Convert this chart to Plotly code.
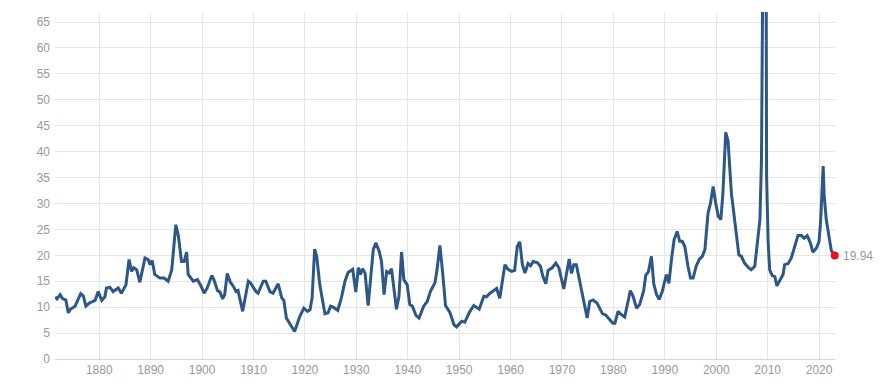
import plotly.graph_objects as go

years = [
    1871.45, 1871.8, 1872.4, 1872.9, 1873.5, 1874.0, 1874.4, 1875.3, 1876.4, 1876.9,
    1877.4, 1878.1, 1879.2, 1879.8, 1880.5, 1881.1, 1881.4, 1882.1, 1882.7, 1883.7,
    1884.3, 1885.2, 1885.8, 1886.3, 1886.7, 1887.3, 1887.9, 1888.9, 1889.5, 1889.9,
    1890.3, 1890.8, 1891.8, 1892.6, 1893.4, 1894.1, 1894.9, 1895.4, 1896.0, 1896.5,
    1897.0, 1897.3, 1898.3, 1899.1, 1899.7, 1900.4, 1901.0, 1901.9, 1902.3, 1903.0,
    1903.5, 1904.0, 1904.4, 1904.9, 1905.5, 1906.1, 1906.6, 1907.0, 1907.9, 1909.0,
    1909.4, 1910.5, 1910.9, 1911.9, 1912.4, 1913.2, 1913.8, 1914.8, 1915.5, 1915.9,
    1916.4, 1917.1, 1918.0, 1919.0, 1919.8, 1920.5, 1921.0, 1921.4, 1921.9, 1922.3,
    1922.9, 1923.9, 1924.5, 1925.0, 1925.5, 1926.4, 1927.1, 1927.8, 1928.4, 1929.3,
    1929.9, 1930.4, 1930.8, 1931.2, 1931.7, 1932.3, 1933.3, 1933.8, 1934.45, 1934.9,
    1935.4, 1935.9, 1936.4, 1936.85, 1937.3, 1937.8, 1938.3, 1938.8, 1939.25, 1939.9,
    1940.4, 1940.9, 1941.6, 1942.2, 1943.1, 1943.8, 1944.4, 1945.3, 1945.7, 1946.25,
    1946.8, 1947.35, 1948.2, 1949.0, 1949.5, 1950.5, 1951.1, 1952.1, 1952.85, 1953.9,
    1954.8, 1955.3, 1956.0, 1957.3, 1957.9, 1958.9, 1959.5, 1960.2, 1960.8, 1961.3,
    1961.8, 1962.3, 1962.8, 1963.4, 1963.9, 1964.4, 1965.2, 1965.8, 1966.3, 1966.85,
    1967.3, 1968.1, 1968.8, 1969.4, 1970.35, 1971.4, 1971.85, 1972.3, 1972.8, 1973.8,
    1974.9, 1975.4, 1976.05, 1976.8, 1977.9, 1978.5, 1979.3, 1979.9, 1980.3, 1980.9,
    1981.6, 1982.2, 1983.3, 1983.8, 1984.5, 1985.1, 1985.9, 1986.3, 1986.8, 1987.4,
    1987.85, 1988.4, 1988.9, 1989.5, 1990.3, 1990.8, 1991.3, 1991.8, 1992.4, 1992.9,
    1993.4, 1993.9, 1994.5, 1995.0, 1995.5, 1996.1, 1996.7, 1997.3, 1997.8, 1998.4,
    1998.9, 1999.4, 1999.9, 2000.4, 2000.9, 2001.3, 2001.85, 2002.3, 2002.95, 2003.6,
    2004.05, 2004.4, 2004.9, 2005.5, 2006.2, 2006.8, 2007.5, 2007.9, 2008.5, 2008.8,
    2008.9, 2009.1, 2009.3, 2009.4, 2009.55, 2009.7, 2009.8, 2010.1, 2010.4, 2010.9,
    2011.4, 2011.8, 2012.4, 2013.0, 2013.3, 2014.0, 2014.6, 2015.3, 2015.9, 2016.6,
    2017.1, 2017.7, 2018.3, 2018.8, 2019.5, 2020.0, 2020.3, 2020.8, 2021.0, 2021.4,
    2021.9, 2022.4, 2022.8, 2023.05,
]

pe_ratio = [
    12.0, 11.6, 12.4, 11.6, 11.4, 8.9, 9.6, 10.2, 12.6, 12.2,
    10.2, 10.8, 11.3, 13.0, 11.3, 12.0, 13.7, 13.8, 13.0, 13.7,
    12.7, 14.3, 19.2, 16.9, 17.6, 17.2, 14.8, 19.5, 19.2, 18.2,
    19.0, 16.3, 15.6, 15.6, 15.0, 17.2, 25.9, 23.7, 18.8, 18.8,
    20.6, 16.3, 15.0, 15.3, 14.3, 12.7, 13.7, 16.1, 15.3, 13.2,
    12.9, 11.6, 12.4, 16.5, 14.8, 14.0, 13.0, 13.2, 9.2, 15.0,
    14.7, 13.0, 12.7, 15.0, 15.0, 13.0, 12.7, 14.5, 11.8, 11.3,
    7.9, 6.8, 5.3, 8.2, 9.8, 9.2, 9.5, 11.8, 21.2, 19.8,
    14.3, 8.7, 8.9, 10.2, 10.0, 9.4, 11.8, 15.0, 16.7, 17.3,
    12.9, 17.6, 16.3, 17.4, 16.6, 10.3, 21.1, 22.4, 20.8, 18.8,
    12.4, 16.9, 16.6, 17.4, 14.0, 9.6, 12.1, 20.6, 15.3, 14.3,
    10.5, 10.2, 8.4, 7.9, 10.2, 11.1, 13.0, 14.7, 17.2, 21.9,
    16.6, 10.3, 9.0, 6.6, 6.2, 7.3, 7.1, 9.2, 10.3, 9.6,
    12.1, 12.0, 12.7, 13.6, 11.7, 18.2, 17.3, 16.9, 17.1, 21.7,
    22.6, 18.2, 16.6, 18.4, 18.0, 18.8, 18.6, 17.9, 15.9, 14.5,
    17.1, 17.6, 18.5, 17.6, 13.5, 19.3, 16.5, 18.2, 18.2, 13.5,
    7.9, 11.1, 11.4, 10.8, 8.7, 8.5, 7.5, 6.9, 6.9, 9.2,
    8.5, 8.1, 13.2, 12.2, 9.8, 10.5, 13.2, 16.2, 16.8, 19.8,
    14.5, 12.4, 11.5, 13.0, 16.3, 14.6, 19.2, 23.0, 24.6, 22.7,
    22.7, 21.7, 17.9, 15.6, 15.6, 17.9, 19.2, 19.8, 21.1, 28.1,
    30.1, 33.3, 30.1, 27.5, 26.9, 32.0, 43.7, 42.0, 32.0, 26.9,
    22.4, 20.1, 19.8, 18.5, 17.7, 17.2, 17.9, 21.1, 26.9, 38.4,
    70.9, 86.0, 110.0, 123.7, 100.0, 75.0, 35.0, 22.4, 17.2, 16.1,
    15.9, 14.1, 15.2, 16.3, 18.2, 18.4, 19.5, 22.0, 23.8, 23.8,
    23.3, 23.8, 22.4, 20.6, 21.4, 22.7, 26.5, 37.2, 31.4, 26.9,
    23.65, 20.8, 20.4, 19.94,
]

x_ticks = [1880, 1890, 1900, 1910, 1920, 1930, 1940, 1950, 1960, 1970, 1980, 1990, 2000, 2010, 2020]
y_ticks = [0, 5, 10, 15, 20, 25, 30, 35, 40, 45, 50, 55, 60, 65]

last_year = years[-1]
last_value = pe_ratio[-1]

FONT = "Arial, 'Liberation Sans', sans-serif"
GRAY = "#999999"

fig = go.Figure()
fig.add_trace(go.Scatter(
    x=years, y=pe_ratio, mode="lines",
    line=dict(color="#2c5788", width=3),
    hoverinfo="skip", showlegend=False, cliponaxis=True,
))
fig.add_trace(go.Scatter(
    x=[last_year], y=[last_value], mode="markers",
    marker=dict(color="#e8102b", size=8),
    hoverinfo="skip", showlegend=False, cliponaxis=False,
))
fig.add_annotation(
    x=last_year, y=last_value, xref="x", yref="y",
    text=f"{last_value:.2f}", showarrow=False,
    xanchor="left", yanchor="middle", xshift=6,
    font=dict(family=FONT, size=12, color=GRAY),
)

fig.update_layout(
    width=890, height=384,
    margin=dict(l=55, r=55, t=12, b=25),
    paper_bgcolor="white", plot_bgcolor="white",
    font=dict(family=FONT, size=12, color=GRAY),
    hovermode=False,
    xaxis=dict(
        range=[1871.4, 2023.1], tickvals=x_ticks, ticktext=[str(t) for t in x_ticks],
        showgrid=True, gridcolor="#e6e6e6", gridwidth=1,
        showline=True, linecolor="#d6d6d6", linewidth=1,
        ticks="", zeroline=False, tickfont=dict(size=12, color=GRAY),
        automargin=False,
    ),
    yaxis=dict(
        range=[0, 66.93], tickvals=y_ticks, ticktext=[str(t) for t in y_ticks],
        showgrid=True, gridcolor="#e6e6e6", gridwidth=1,
        showline=False, ticks="", zeroline=False,
        tickfont=dict(size=12, color=GRAY), ticklabelstandoff=4,
        automargin=False,
    ),
)

fig.write_html(
    "out.html",
    config={"displayModeBar": False, "staticPlot": True},
    post_script="document.body.style.margin='0';",
)
